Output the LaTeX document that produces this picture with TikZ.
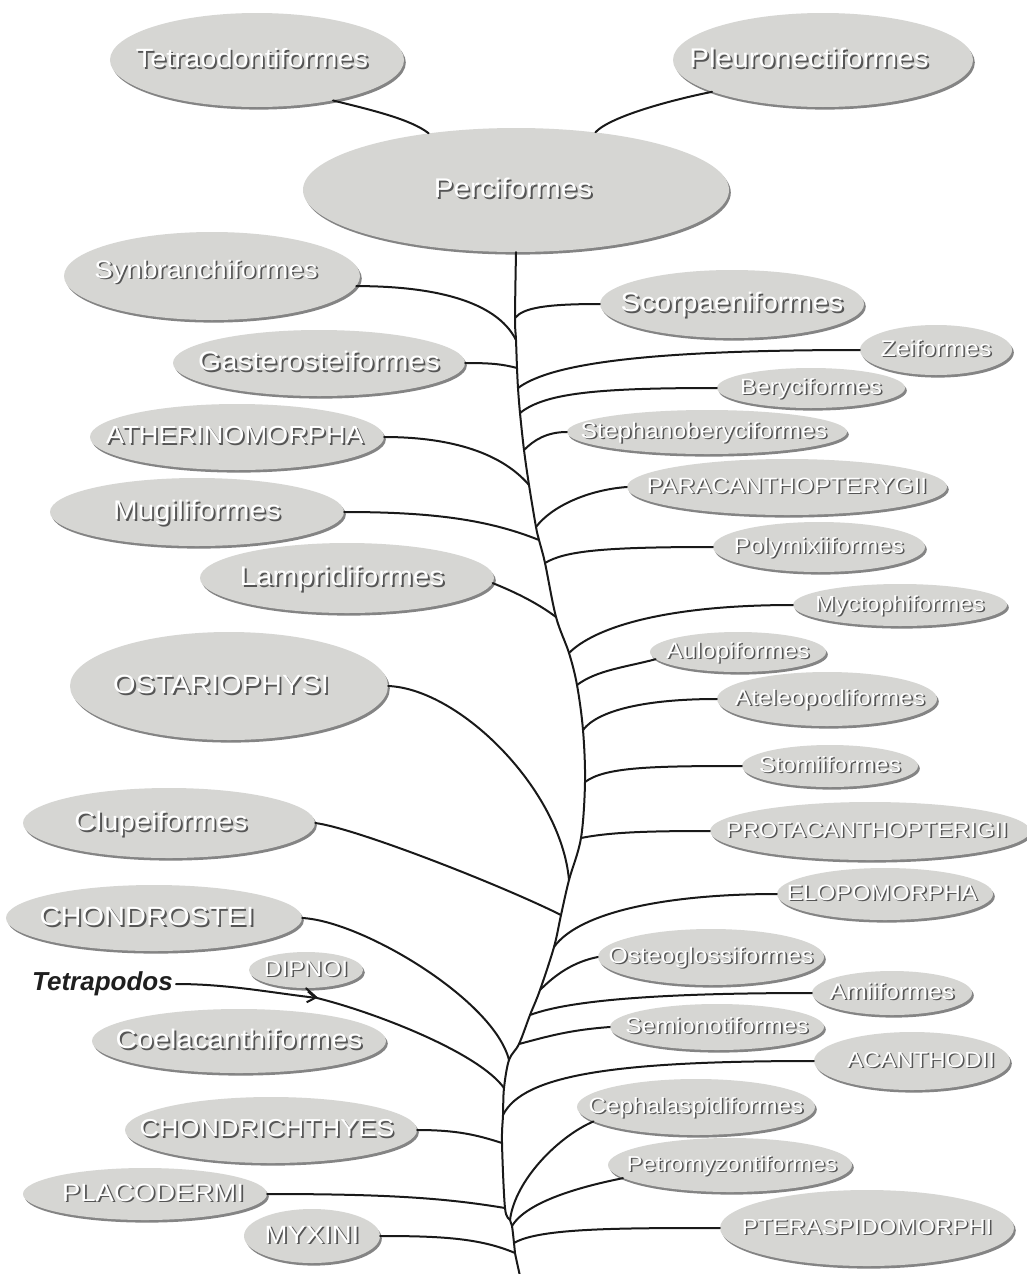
\documentclass[tikz,border=0pt]{standalone}
\usepackage{fontspec}
\setmainfont{Liberation Sans}[FakeStretch=1.1]
\newfontfamily\plainfont{Liberation Sans}
\usetikzlibrary{shapes.geometric,shadows,calc,arrows.meta}
\definecolor{ellfill}{RGB}{214,214,211}
\definecolor{embsh}{RGB}{85,85,85}
\definecolor{linec}{RGB}{25,25,25}
\newcommand{\fs}[1]{\fontsize{#1}{#1}\selectfont}
\newcommand{\emb}[2][0]{\makebox[0pt][c]{\hspace*{#1pt}\hspace*{#1pt}\raisebox{-0.28em}[0pt][0pt]{\rlap{\hspace{0.07em}\raisebox{-0.07em}{\color{embsh}#2}}{\color{white}#2}}}}
\newcommand{\fishbranch}[4]{\draw[branch] (#1) .. controls ($(#1)+(#3)$) and ($(#2)+(#4)$) .. (#2);}
\begin{document}
\begin{tikzpicture}[x=1pt,y=-1pt,
  fish/.style={ellipse, fill=ellfill, inner sep=0pt,
     drop shadow={shadow xshift=1.8pt, shadow yshift=-2.6pt, fill=black!80, opacity=0.6}},
  branch/.style={draw=linec, line width=2pt, line cap=round}]
\fill[white] (0,0) rectangle (1026,1274);
\useasboundingbox (0,0) rectangle (1026,1274);

% ---- top ----
\node[fish, minimum width=294pt, minimum height=94pt, font=\fs{26.4}] (tet) at (257,60) {\emb[-5]{Tetraodontiformes}};
\node[fish, minimum width=300pt, minimum height=94pt, font=\fs{27}] (ple) at (823,60) {\emb[-14]{Pleuronectiformes}};
\node[fish, minimum width=426pt, minimum height=124pt, font=\fs{27}] (perc) at (516,190) {\emb[-3]{Perciformes}};

% ---- left ----
\node[fish, minimum width=296pt, minimum height=88pt, font=\fs{25.2}] (syn) at (212,276) {\emb[-6]{\raisebox{5pt}{Synbranchiformes}}};
\node[fish, minimum width=292pt, minimum height=66pt, font=\fs{26.9}] (gas) at (319,363) {\emb{Gasterosteiformes}};
\node[fish, minimum width=294pt, minimum height=66pt, font=\fs{24.7}] (ath) at (237,437) {\emb[-2]{ATHERINOMORPHA}};
\node[fish, minimum width=294pt, minimum height=68pt, font=\fs{26.9}] (mug) at (197,512) {\emb{Mugiliformes}};
\node[fish, minimum width=294pt, minimum height=70pt, font=\fs{27}] (lam) at (347,578) {\emb[-5]{Lampridiformes}};
\node[fish, minimum width=318pt, minimum height=108pt, font=\fs{26.4}] (ostar) at (229,686) {\emb[-8]{OSTARIOPHYSI}};
\node[fish, minimum width=292pt, minimum height=70pt, font=\fs{26.7}] (clu) at (169,823) {\emb[-8]{Clupeiformes}};
\node[fish, minimum width=296pt, minimum height=66pt, font=\fs{26.4}] (chd) at (154,918) {\emb[-7]{CHONDROSTEI}};
\node[fish, minimum width=114pt, minimum height=36pt, font=\fs{22.2}] (dip) at (306,970) {\emb{DIPNOI}};
\node[fish, minimum width=294pt, minimum height=64pt, font=\fs{26.9}] (coe) at (239,1041) {\emb{Coelacanthiformes}};
\node[fish, minimum width=292pt, minimum height=66pt, font=\fs{24.5}] (chr) at (271,1130) {\emb[-4]{CHONDRICHTHYES}};
\node[fish, minimum width=244pt, minimum height=52pt, font=\fs{25}] (pla) at (145,1194) {\emb[8]{PLACODERMI}};
\node[fish, minimum width=136pt, minimum height=54pt, font=\fs{25}] (myx) at (312,1236) {\emb{MYXINI}};
\node[font=\plainfont\bfseries\itshape\fs{26}, text=black!88, inner sep=3pt, anchor=east] (tetra) at (176,984) {Tetrapodos};

% ---- right ----
\node[fish, minimum width=264pt, minimum height=68pt, font=\fs{26.8}] (sco) at (732,304) {\emb{Scorpaeniformes}};
\node[fish, minimum width=152pt, minimum height=50pt, font=\fs{22.7}] (zei) at (936,350) {\emb{Zeiformes}};
\node[fish, minimum width=188pt, minimum height=40pt, font=\fs{22.1}] (ber) at (811,388) {\emb{Beryciformes}};
\node[fish, minimum width=280pt, minimum height=44pt, font=\fs{22.4}] (ste) at (707,432) {\emb[-3]{Stephanoberyciformes}};
\node[fish, minimum width=320pt, minimum height=56pt, font=\fs{22.1}] (par) at (787,487) {\emb{PARACANTHOPTERYGII}};
\node[fish, minimum width=212pt, minimum height=50pt, font=\fs{22.1}] (pol) at (819,547) {\emb{Polymixiiformes}};
\node[fish, minimum width=214pt, minimum height=42pt, font=\fs{21.8}] (myc) at (900,605) {\emb{Myctophiformes}};
\node[fish, minimum width=176pt, minimum height=40pt, font=\fs{22.3}] (aul) at (738,652) {\emb{Aulopiformes}};
\node[fish, minimum width=220pt, minimum height=54pt, font=\fs{22.2}] (ate) at (827,699) {\emb[3]{Ateleopodiformes}};
\node[fish, minimum width=176pt, minimum height=42pt, font=\fs{22.1}] (sto) at (830,766) {\emb{Stomiiformes}};
\node[fish, minimum width=320pt, minimum height=58pt, font=\fs{21.6}] (pro) at (870,831) {\emb[-3]{PROTACANTHOPTERIGII}};
\node[fish, minimum width=216pt, minimum height=52pt, font=\fs{22.1}] (elo) at (885,894) {\emb[-3]{ELOPOMORPHA}};
\node[fish, minimum width=226pt, minimum height=56pt, font=\fs{22.5}] (osg) at (711,957) {\emb{Osteoglossiformes}};
\node[fish, minimum width=160pt, minimum height=44pt, font=\fs{22.7}] (ami) at (892,993) {\emb{Amiiformes}};
\node[fish, minimum width=214pt, minimum height=46pt, font=\fs{22.2}] (sem) at (717,1027) {\emb{Semionotiformes}};
\node[fish, minimum width=196pt, minimum height=58pt, font=\fs{21.8}] (aca) at (912,1061) {\emb[9]{ACANTHODII}};
\node[fish, minimum width=238pt, minimum height=56pt, font=\fs{22.1}] (cep) at (696,1107) {\emb{Cephalaspidiformes}};
\node[fish, minimum width=244pt, minimum height=54pt, font=\fs{21.5}] (pet) at (730,1165) {\emb[2]{Petromyzontiformes}};
\node[fish, minimum width=294pt, minimum height=76pt, font=\fs{21.8}] (pte) at (867,1228) {\emb{PTERASPIDOMORPHI}};

% ---- trunk junctions ----
\coordinate (jTop) at (perc.south);
\coordinate (jSco) at (515,318);
\coordinate (jSyn) at (516,340);
\coordinate (jGas) at (517,368);
\coordinate (jZei) at (518,388);
\coordinate (jBer) at (520,413);
\coordinate (jSte) at (524,450);
\coordinate (jAth) at (529,485);
\coordinate (jPar) at (536,527);
\coordinate (jMug) at (539,540);
\coordinate (jPol) at (545,563);
\coordinate (jLam) at (556,617);
\coordinate (jMyc) at (569,653);
\coordinate (jAul) at (577,685);
\coordinate (jAte) at (583,730);
\coordinate (jSto) at (585,782);
\coordinate (jPro) at (581,838);
\coordinate (jOst) at (569,880);
\coordinate (jClu) at (561,915);
\coordinate (jElo) at (554,947);
\coordinate (jOsg) at (540,990);
\coordinate (jAmi) at (530,1015);
\coordinate (jSem) at (519,1044);
\coordinate (jChd) at (509,1060);
\coordinate (jTet) at (504,1088);
\coordinate (jAca) at (503,1115);
\coordinate (jChr) at (502,1143);
\coordinate (jPla) at (505,1208);
\coordinate (jCep) at (510,1220);
\coordinate (jPet) at (512,1226);
\coordinate (jPte) at (514,1243);
\coordinate (jMyx) at (515,1253);
\coordinate (jEnd) at (520,1276);
\coordinate (jDip) at (317,998);

\draw[branch] plot[smooth, tension=0.55] coordinates {(jTop) (jSco) (jSyn) (jGas) (jZei) (jBer) (jSte) (jAth) (jPar) (jMug) (jPol) (jLam) (jMyc) (jAul) (jAte) (jSto) (jPro) (jOst) (jClu) (jElo) (jOsg) (jAmi) (jSem) (jChd) (jTet) (jAca) (jChr) (jPla) (jCep) (jPet) (jPte) (jMyx) (jEnd)};

% ---- top connectors ----
\fishbranch{tet.-28}{perc.147}{40,10}{-18,-14}
\fishbranch{ple.196}{perc.36}{-40,8}{15,-16}

% ---- left connectors ----
\fishbranch{syn.-4}{jSyn}{75,0}{-20,-40}
\fishbranch{gas.east}{jGas}{25,0}{-15,-4}
\fishbranch{ath.east}{jAth}{60,0}{-30,-35}
\fishbranch{mug.east}{jMug}{90,0}{-50,-20}
\fishbranch{lam.-2}{jLam}{20,8}{-20,-15}
\fishbranch{ostar.east}{jOst}{72,3}{-8,-90}
\fishbranch{clu.east}{jClu}{40,5}{-60,-30}
\fishbranch{chd.east}{jChd}{60,3}{-15,-60}
\draw[branch, -{Straight Barb[length=8pt,width=11pt]}] (tetra.east) .. controls ($(tetra.east)+(50,0)$) and ($(jDip)+(-50,-6)$) .. (jDip);
\draw[branch] (dip.south) -- (jDip);
\fishbranch{jDip}{jTet}{60,15}{-25,-35}
\fishbranch{chr.east}{jChr}{40,0}{-25,-8}
\fishbranch{pla.east}{jPla}{120,0}{-60,-10}
\fishbranch{myx.east}{jMyx}{60,0}{-35,-15}

% ---- right connectors ----
\fishbranch{jSco}{sco.west}{8,-10}{-55,0}
\fishbranch{jZei}{zei.west}{30,-22}{-230,0}
\fishbranch{jBer}{ber.west}{25,-20}{-120,0}
\fishbranch{jSte}{ste.west}{10,-10}{-20,0}
\fishbranch{jPar}{par.west}{15,-20}{-40,3}
\fishbranch{jPol}{pol.west}{20,-12}{-110,0}
\fishbranch{jMyc}{myc.west}{25,-25}{-130,0}
\fishbranch{jAul}{aul.185}{20,-15}{-30,8}
\fishbranch{jAte}{ate.west}{15,-20}{-70,0}
\fishbranch{jSto}{sto.west}{20,-15}{-90,0}
\fishbranch{jPro}{pro.west}{30,-6}{-60,0}
\fishbranch{jElo}{elo.west}{25,-35}{-110,0}
\fishbranch{jOsg}{osg.west}{15,-15}{-25,5}
\fishbranch{jAmi}{ami.west}{40,-15}{-150,0}
\fishbranch{jSem}{sem.west}{30,-8}{-40,3}
\fishbranch{jAca}{aca.west}{20,-40}{-200,0}
\fishbranch{jCep}{cep.188}{5,-40}{-35,15}
\fishbranch{jPet}{pet.187}{15,-25}{-40,8}
\fishbranch{jPte}{pte.west}{25,-15}{-100,0}
\end{tikzpicture}
\end{document}
